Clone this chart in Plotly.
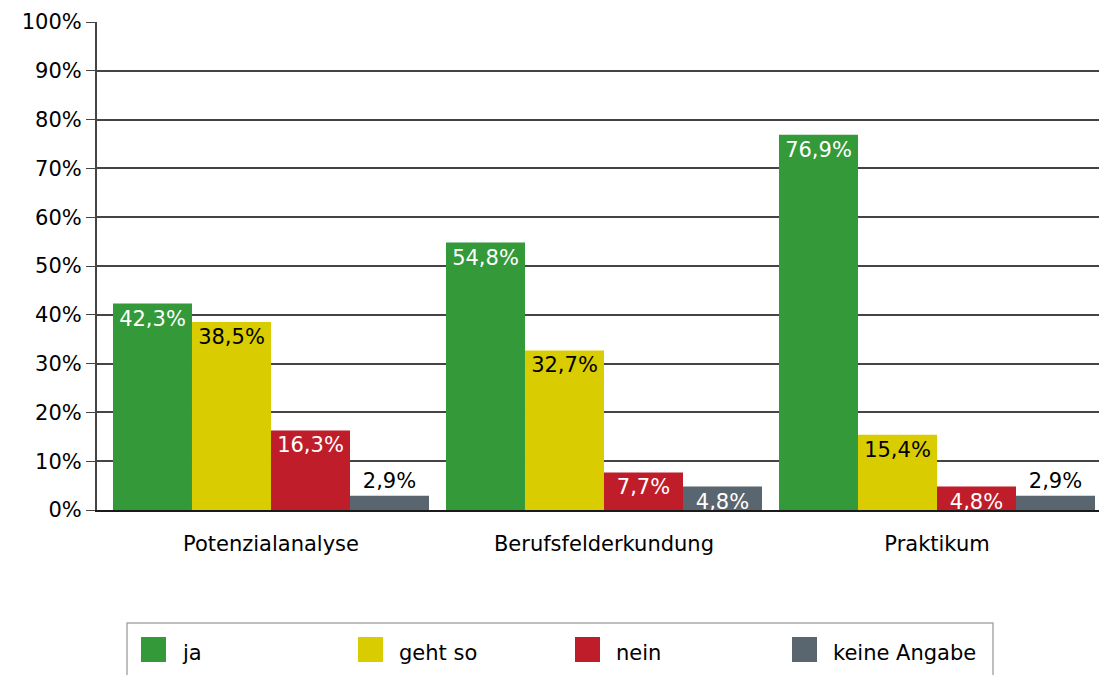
import plotly.graph_objects as go

categories = ["Potenzialanalyse", "Berufsfelderkundung", "Praktikum"]
series_names = ["ja", "geht so", "nein", "keine Angabe"]
ja = [42.3, 54.8, 76.9]
geht_so = [38.5, 32.7, 15.4]
nein = [16.3, 7.7, 4.8]
keine_angabe = [2.9, 4.8, 2.9]
y_ticks = [0, 10, 20, 30, 40, 50, 60, 70, 80, 90, 100]
y_tick_labels = [f"{v}%" for v in y_ticks]

colors = ["#339939", "#d9cc00", "#c01d2a", "#5a666f"]
inside_font_colors = ["white", "black", "white", "white"]
values = [ja, geht_so, nein, keine_angabe]

FONT = "DejaVu Sans"
FS = 21

fig = go.Figure()
for name, vals, col, fcol in zip(series_names, values, colors, inside_font_colors):
    pos = ["inside" if v >= 4 else "outside" for v in vals]
    fig.add_trace(go.Bar(
        name=name, x=categories, y=vals, marker=dict(color=col, line=dict(width=0)),
        text=[f"{v:.1f}%".replace(".", ",") for v in vals],
        textposition=pos, insidetextanchor="end",
        insidetextfont=dict(color=fcol, size=FS, family=FONT),
        outsidetextfont=dict(color="black", size=FS, family=FONT),
        cliponaxis=False, showlegend=False, hoverinfo="skip",
    ))

fig.update_layout(
    width=1099, height=675,
    margin=dict(l=97, r=0, t=22, b=165),
    barmode="group", bargap=0.051, bargroupgap=0,
    plot_bgcolor="white", paper_bgcolor="white",
    font=dict(family=FONT, size=FS, color="black"),
    uniformtext=dict(minsize=FS, mode="show"),
    showlegend=False,
)
fig.update_yaxes(
    range=[0, 100], tickvals=y_ticks, ticktext=y_tick_labels,
    showgrid=True, gridcolor="#444444", gridwidth=2,
    ticks="outside", ticklen=9, tickwidth=1, tickcolor="#444444",
    showline=True, linecolor="#444444", linewidth=2,
    zeroline=False, tickfont=dict(size=FS, family=FONT, color="black"),
    automargin=False, ticklabelstandoff=0,
)
fig.update_xaxes(
    range=[-0.5225, 2.4865], showgrid=False, ticks="",
    showline=True, linecolor="#1a1a1a", linewidth=2,
    ticklabelstandoff=14, tickfont=dict(size=FS, family=FONT, color="black"),
    automargin=False,
)

# custom legend (frame + swatches + labels) positioned in pixel terms
pl, pt, pw, ph = 97, 22, 1099 - 97, 675 - 22 - 165
def px_to_paper(x, y):
    return (x - pl) / pw, 1 - (y - pt) / ph

x0, y0 = px_to_paper(127, 623)
x1, y1 = px_to_paper(993, 690)
fig.add_shape(type="rect", xref="paper", yref="paper", x0=x0, y0=y0, x1=x1, y1=y1,
              line=dict(color="#aaaaaa", width=1.5), fillcolor="rgba(0,0,0,0)")
swatch_x = [141, 358, 575, 792]
for sx, name, col in zip(swatch_x, series_names, colors):
    a, b = px_to_paper(sx, 637)
    c, d = px_to_paper(sx + 25, 662)
    fig.add_shape(type="rect", xref="paper", yref="paper", x0=a, y0=b, x1=c, y1=d,
                  line=dict(width=0), fillcolor=col)
    tx, ty = px_to_paper(sx + 39, 653)
    fig.add_annotation(x=tx, y=ty, xref="paper", yref="paper", text=name,
                       showarrow=False, xanchor="left", yanchor="middle",
                       font=dict(size=FS, family=FONT, color="black"))

fig.write_html("out.html", config={"displayModeBar": False},
               post_script="document.body.style.margin='0';document.body.style.overflow='hidden';")
